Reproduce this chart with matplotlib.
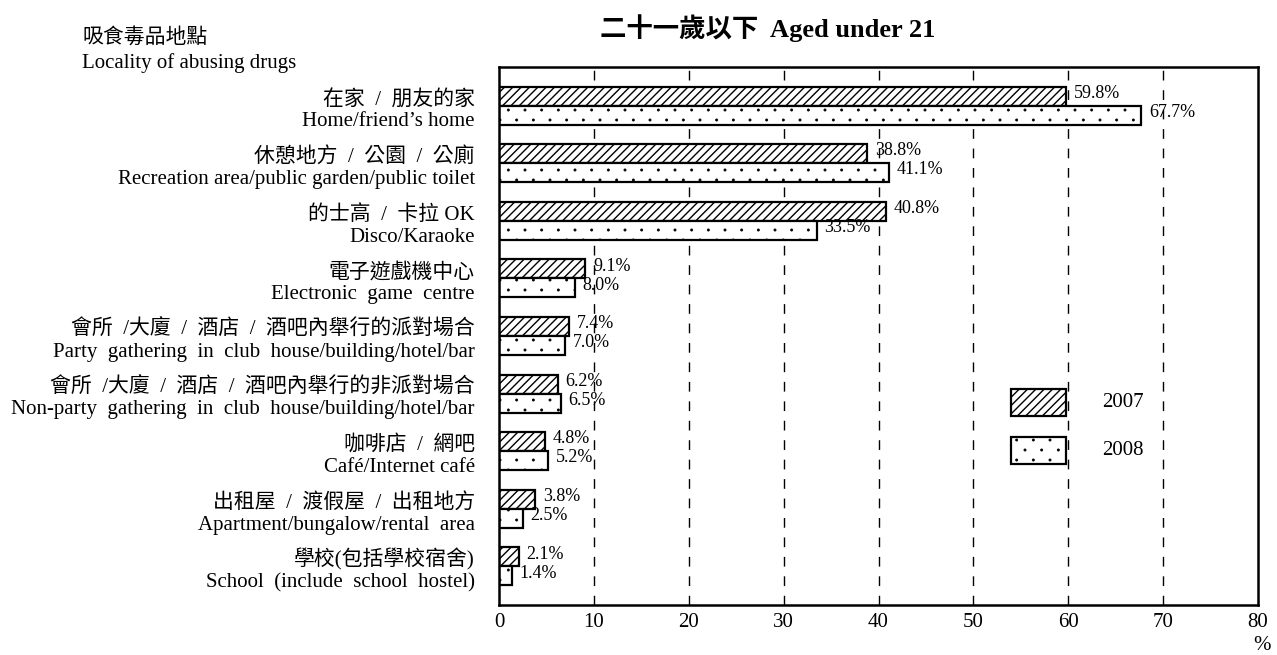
import numpy as np
import matplotlib.pyplot as plt
import matplotlib.hatch as mhatch
from matplotlib.path import Path
from matplotlib.patches import Rectangle

# categories: (Chinese line, English line)
labels_zh = ['在家  /  朋友的家', '休憩地方  /  公園  /  公廁', '的士高  /  卡拉 OK', '電子遊戲機中心',
             '會所  /大廈  /  酒店  /  酒吧內舉行的派對場合', '會所  /大廈  /  酒店  /  酒吧內舉行的非派對場合',
             '咖啡店  /  網吧', '出租屋  /  渡假屋  /  出租地方', '學校(包括學校宿舍)']
labels_en = ['Home/friend\u2019s home', 'Recreation area/public garden/public toilet', 'Disco/Karaoke',
             'Electronic  game  centre', 'Party  gathering  in  club  house/building/hotel/bar',
             'Non-party  gathering  in  club  house/building/hotel/bar', 'Café/Internet café',
             'Apartment/bungalow/rental  area', 'School  (include  school  hostel)']
vals_2007 = [59.8, 38.8, 40.8, 9.1, 7.4, 6.2, 4.8, 3.8, 2.1]
vals_2008 = [67.7, 41.1, 33.5, 8.0, 7.0, 6.5, 5.2, 2.5, 1.4]
years = ['2007', '2008']
xticks = [0, 10, 20, 30, 40, 50, 60, 70, 80]

fam = ['Liberation Serif', 'Noto Sans CJK TC']
HATCH_07 = '////'
HATCH_08 = '.'


# sparse staggered dots for '.', closer to the printed pattern than the default
class SparseDots(mhatch.HatchPatternBase):
    ncols, nrows, radius = 6, 10, 0.011

    def __init__(self, hatch, density):
        circ = Path.unit_circle()
        self.cv, self.cc = circ.vertices, circ.codes
        self.pts = self._points() if '.' in hatch else []
        self.num_vertices = len(self.pts) * len(self.cv)

    def _points(self):
        pts = []
        for r in range(self.nrows + 1):
            if r % 2 == 0:
                xs = np.linspace(0, 1, self.ncols + 1)
            else:
                xs = (np.arange(self.ncols) + 0.5) / self.ncols
            pts += [(x, r / self.nrows) for x in xs]
        return pts

    def set_vertices_and_codes(self, vertices, codes):
        np.concatenate([self.cv * self.radius + p for p in self.pts], out=vertices)
        np.concatenate([self.cc] * len(self.pts), out=codes)


mhatch._hatch_types = [SparseDots if t is mhatch.SmallFilledCircles else t for t in mhatch._hatch_types]

fig = plt.figure(figsize=(12.77, 6.55), dpi=100)
ax = fig.add_axes([499/1277, 1 - 605/655, (1258-499)/1277, (605-67)/655])

y = np.arange(len(vals_2007))
h = 0.33
with plt.rc_context({'hatch.linewidth': 1.0}):
    ax.barh(y - h/2, vals_2007, height=h, color='white', edgecolor='black', hatch=HATCH_07, linewidth=1.6)
    ax.add_patch(Rectangle((54.0, 4.92), 5.8, 0.47, facecolor='white', edgecolor='black',
                           hatch=HATCH_07, linewidth=1.6))
with plt.rc_context({'hatch.linewidth': 0.5}):
    ax.barh(y + h/2, vals_2008, height=h, color='white', edgecolor='black', hatch=HATCH_08, linewidth=1.6)
    ax.add_patch(Rectangle((54.0, 5.75), 5.8, 0.47, facecolor='white', edgecolor='black',
                           hatch=HATCH_08, linewidth=1.6))

for i in range(len(y)):
    ax.text(vals_2007[i] + 0.8, y[i] - h/2 - 0.05, f'{vals_2007[i]:.1f}%', ha='left', va='center',
            fontsize=13, family=fam)
    ax.text(vals_2008[i] + 0.8, y[i] + h/2 - 0.05, f'{vals_2008[i]:.1f}%', ha='left', va='center',
            fontsize=13, family=fam)

ax.set_xlim(0, 80)
ax.set_ylim(8.67, -0.67)
ax.set_xticks(xticks)
ax.set_xticklabels([str(t) for t in xticks], fontsize=15, family=fam)
ax.tick_params(axis='x', length=0, pad=6)
ax.set_yticks([])
for t in xticks[1:-1]:
    ax.axvline(t, color='black', linestyle=(0, (7, 7)), linewidth=1, zorder=0)
for s in ax.spines.values():
    s.set_linewidth(1.8)
ax.set_axisbelow(True)

# category labels, two lines each
for i in range(len(y)):
    ax.text(-2.55, y[i] - 0.02, labels_zh[i], ha='right', va='baseline', fontsize=15, family=fam)
    ax.text(-2.55, y[i] + 0.36, labels_en[i], ha='right', va='baseline', fontsize=15, family=fam)

# legend text
ax.text(63.6, 5.15, years[0], ha='left', va='center', fontsize=15, family=fam)
ax.text(63.6, 5.99, years[1], ha='left', va='center', fontsize=15, family=fam)

fig.text(0.601, 1 - 28/655, '二十一歲以下  Aged under 21', ha='center', va='center', fontsize=19,
         fontweight='bold', family=fam)
fig.text(82/1277, 1 - 39/655, '吸食毒品地點', ha='left', va='center', fontsize=15, family=fam)
fig.text(82/1277, 1 - 68/655, 'Locality of abusing drugs', ha='left', va='baseline', fontsize=15, family=fam)
fig.text(1262/1277, 1 - 646/655, '%', ha='center', va='center', fontsize=15, family=fam)

fig.savefig('out.png', dpi=100)
